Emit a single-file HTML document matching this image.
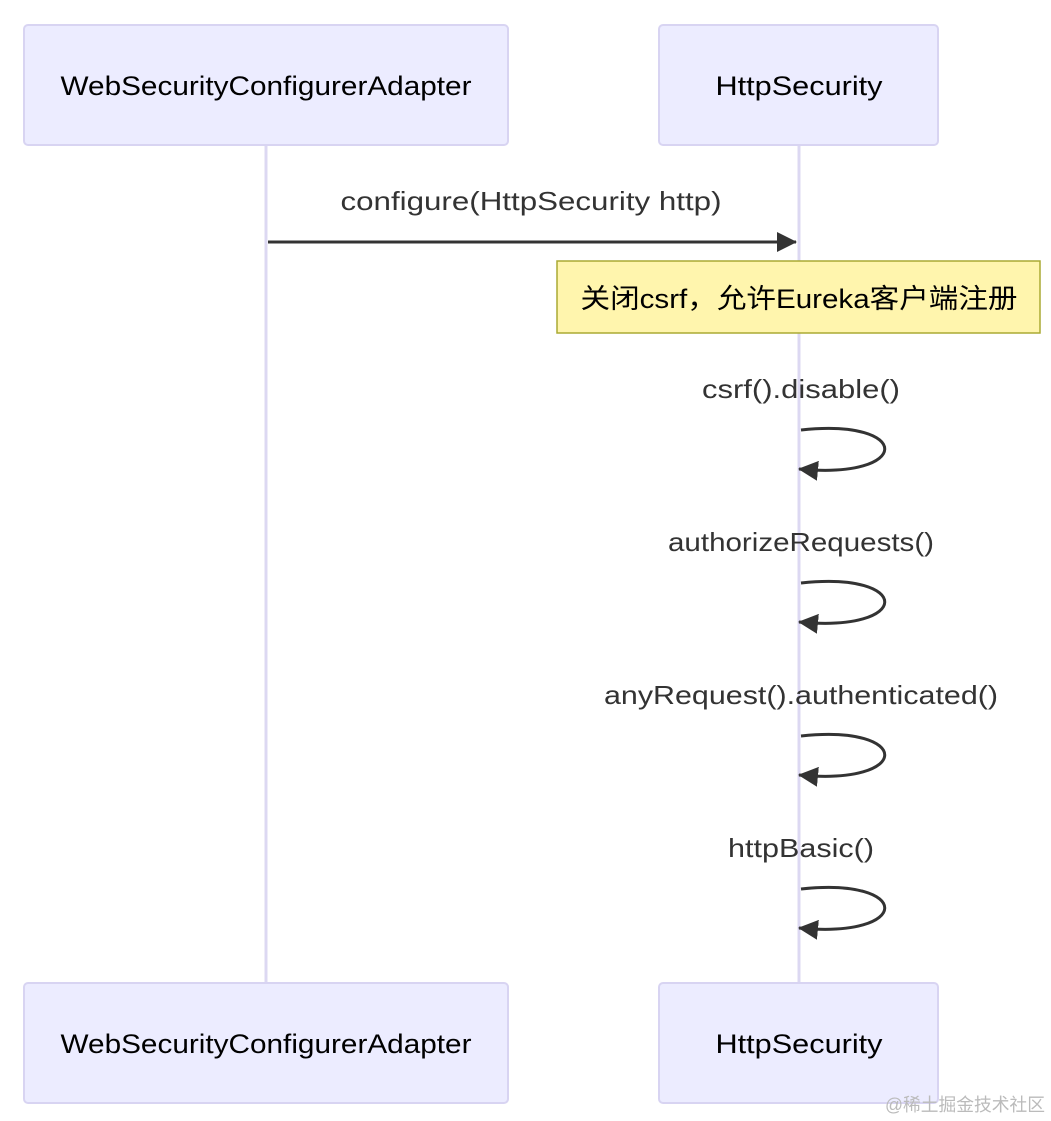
<!DOCTYPE html>
<html><head><meta charset="utf-8"><style>
html,body{margin:0;padding:0;background:#fff;width:1051px;height:1121px;overflow:hidden}
svg text{font-family:"Liberation Sans","Noto Sans CJK SC",sans-serif}
</style></head><body>
<svg width="1051" height="1121" viewBox="0 0 1051 1121" xmlns="http://www.w3.org/2000/svg">
<defs>
<marker id="ah2" markerWidth="20" markerHeight="20" refX="19" refY="10" orient="auto" markerUnits="userSpaceOnUse" viewBox="0 0 20 20">
<path d="M0,0 L20,10 L0,20 z" fill="#333"/></marker>
</defs>
<line x1="266" y1="146" x2="266" y2="983" stroke="#dcd8f2" stroke-width="3"/>
<line x1="799" y1="146" x2="799" y2="983" stroke="#dcd8f2" stroke-width="3"/>
<g fill="#ececff" stroke="#d8d4f2" stroke-width="2">
<rect x="24" y="25" width="484" height="120" rx="4"/>
<rect x="659" y="25" width="279" height="120" rx="4"/>
<rect x="24" y="983" width="484" height="120" rx="4"/>
<rect x="659" y="983" width="279" height="120" rx="4"/>
</g>
<g font-size="27" fill="#000" text-anchor="middle">
<text x="266" y="95" textLength="411" lengthAdjust="spacingAndGlyphs">WebSecurityConfigurerAdapter</text>
<text x="799" y="95" textLength="167" lengthAdjust="spacingAndGlyphs">HttpSecurity</text>
<text x="266" y="1053" textLength="411" lengthAdjust="spacingAndGlyphs">WebSecurityConfigurerAdapter</text>
<text x="799" y="1053" textLength="167" lengthAdjust="spacingAndGlyphs">HttpSecurity</text>
</g>
<g font-size="26" fill="#333" text-anchor="middle">
<text x="531" y="210" textLength="381" lengthAdjust="spacingAndGlyphs">configure(HttpSecurity http)</text>
<text x="801" y="398" textLength="198" lengthAdjust="spacingAndGlyphs">csrf().disable()</text>
<text x="801" y="551" textLength="266" lengthAdjust="spacingAndGlyphs">authorizeRequests()</text>
<text x="801" y="704" textLength="394" lengthAdjust="spacingAndGlyphs">anyRequest().authenticated()</text>
<text x="801" y="857" textLength="146" lengthAdjust="spacingAndGlyphs">httpBasic()</text>
</g>
<line x1="268" y1="242" x2="796" y2="242" stroke="#333" stroke-width="3" marker-end="url(#ah2)"/>
<rect x="557" y="261" width="483" height="72" fill="#fff5ad" stroke="#aaaa33" stroke-width="1.5"/>
<text x="799" y="308" font-size="27" fill="#000" text-anchor="middle" textLength="437" lengthAdjust="spacingAndGlyphs">关闭csrf，允许Eureka客户端注册</text>
<g fill="none" stroke="#333" stroke-width="3">
<path d="M801,430 C913,418 913,480 799,469" marker-end="url(#ah2)"/>
<path d="M801,583 C913,571 913,633 799,622" marker-end="url(#ah2)"/>
<path d="M801,736 C913,724 913,786 799,775" marker-end="url(#ah2)"/>
<path d="M801,889 C913,877 913,939 799,928" marker-end="url(#ah2)"/>
</g>
<text x="1045" y="1111" font-size="18" fill="#bbb" text-anchor="end" textLength="160" lengthAdjust="spacingAndGlyphs">@稀土掘金技术社区</text>
</svg>
</body></html>
